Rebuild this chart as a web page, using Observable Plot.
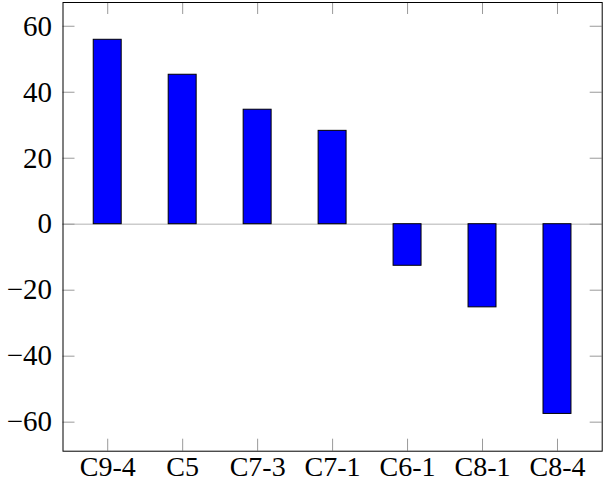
<!DOCTYPE html>
<html>
<head>
<meta charset="utf-8">
<script src="https://cdn.jsdelivr.net/npm/d3@7"></script>
<script src="https://cdn.jsdelivr.net/npm/@observablehq/plot@0.6"></script>
<style>
  html, body { margin: 0; padding: 0; background: #fff; overflow: hidden; }
  #chart svg { display: block; }
  #chart svg text { font-family: 'Liberation Serif', serif; font-size: 29px; fill: black; }
  #chart svg g[aria-label="x-axis tick label"] text { font-size: 28px; }
</style>
</head>
<body>
<div id="chart"></div>
<script>
const categories = ["C9-4", "C5", "C7-3", "C7-1", "C6-1", "C8-1", "C8-4"];
const values = [55.9, 45.3, 34.7, 28.3, -12.6, -25.2, -57.5];
const yTicks = [-60, -40, -20, 0, 20, 40, 60];

const data = categories.map((c, i) => ({cat: c, val: values[i]}));

const W = 604, H = 482;
const mL = 62.5, mT = 2, mR = 2.3, mB = 31.3;
const pw = W - mL - mR, ph = H - mT - mB;
const tl = 12;
const tickColor = "#9a9a9a";
const fmt = d => d < 0 ? "\u2212" + Math.abs(d) : String(d);

const chart = Plot.plot({
  width: W,
  height: H,
  marginLeft: mL,
  marginTop: mT,
  marginRight: mR,
  marginBottom: mB,
  style: {fontFamily: "'Liberation Serif', serif", fontSize: "29px", color: "black", background: "white"},
  x: {domain: categories, paddingInner: 0.627, paddingOuter: 0.41, align: 0.5, round: false},
  y: {domain: [-68.8, 67.2]},
  marks: [
    Plot.ruleY([0], {stroke: "#cccccc", strokeWidth: 1.5}),
    Plot.ruleY(yTicks, {y: d => d, stroke: tickColor, strokeWidth: 1, insetRight: pw - tl}),
    Plot.ruleY(yTicks, {y: d => d, stroke: tickColor, strokeWidth: 1, insetLeft: pw - tl}),
    Plot.tickX(categories, {x: d => d, stroke: tickColor, strokeWidth: 1, insetTop: ph - tl}),
    Plot.tickX(categories, {x: d => d, stroke: tickColor, strokeWidth: 1, insetBottom: ph - tl}),
    Plot.barY(data, {x: "cat", y: "val", fill: "#0000ff", stroke: "black", strokeWidth: 1}),
    Plot.frame({stroke: "black", strokeWidth: 1}),
    Plot.axisY({ticks: yTicks, tickSize: 0, tickPadding: 11, tickFormat: fmt, label: null}),
    Plot.axisX({tickSize: 0, tickPadding: 5, label: null})
  ]
});
document.getElementById("chart").appendChild(chart);
</script>
</body>
</html>
